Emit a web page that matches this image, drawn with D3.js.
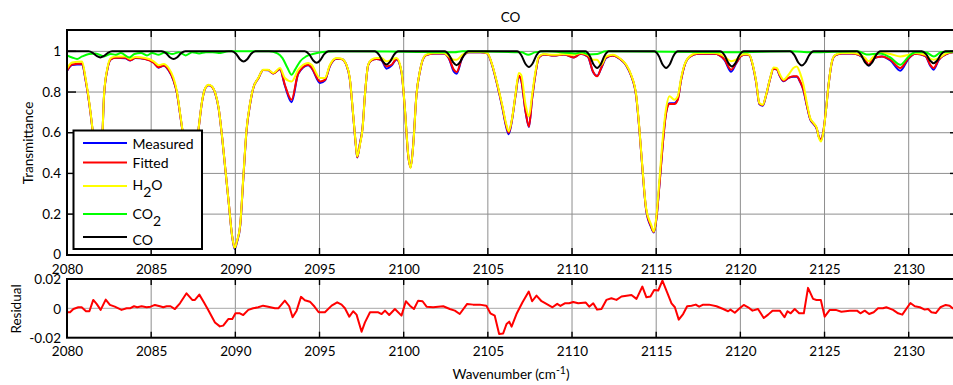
<!DOCTYPE html>
<html><head><meta charset="utf-8">
<script src="https://cdn.jsdelivr.net/npm/d3@7"></script>
<style>
body{margin:0;background:#fff;}
svg{display:block;font-family:Lato,"Open Sans",sans-serif;}
</style></head><body>
<svg id="c" width="953" height="385"></svg>
<script>
// ---------------- data ----------------
const wavenumber = [
 2080.00,2080.30,2080.90,2081.10,2081.40,2081.60,2081.85,2082.10,2082.20,2082.40,
 2082.60,2082.90,2083.46,2083.76,2084.06,2084.65,2085.15,2085.44,2085.74,2086.04,
 2086.33,2086.53,2086.73,2086.87,2087.30,2087.82,2088.02,2088.21,2088.41,2088.61,
 2088.81,2089.01,2089.20,2089.40,2089.60,2089.80,2089.96,2090.09,2090.29,2090.47,
 2090.67,2090.86,2091.06,2091.36,2091.66,2091.95,2092.25,2092.65,2092.94,2093.34,
 2093.74,2094.33,2094.53,2095.03,2095.32,2095.62,2096.01,2096.31,2096.60,2096.80,
 2097.00,2097.16,2097.24,2097.40,2097.56,2097.70,2097.89,2098.09,2098.38,2098.68,
 2098.98,2099.28,2099.58,2099.87,2100.07,2100.27,2100.41,2100.57,2100.76,2100.96,
 2101.30,2101.79,2102.39,2102.68,2102.98,2103.14,2103.48,2103.87,2104.57,2104.96,
 2105.26,2105.55,2105.85,2106.10,2106.24,2106.44,2106.64,2106.84,2106.98,2107.24,
 2107.44,2107.63,2107.83,2108.03,2108.33,2108.92,2109.52,2110.10,2110.50,2110.94,
 2111.24,2111.49,2111.73,2112.03,2112.42,2112.82,2113.22,2113.51,2113.81,2114.00,
 2114.20,2114.40,2114.70,2114.86,2115.00,2115.20,2115.39,2115.59,2115.79,2116.08,
 2116.28,2116.48,2116.68,2116.98,2117.47,2118.46,2119.06,2119.45,2119.75,2120.05,
 2120.34,2120.54,2120.74,2120.94,2121.13,2121.33,2121.53,2121.77,2121.97,2122.16,
 2122.36,2122.56,2122.86,2123.15,2123.35,2123.55,2123.75,2123.95,2124.15,2124.35,
 2124.54,2124.64,2124.80,2124.94,2125.08,2125.24,2125.44,2125.63,2126.03,2126.62,
 2127.02,2127.42,2127.62,2127.91,2128.41,2128.91,2129.50,2130.00,2130.39,2130.99,
 2131.28,2131.48,2131.78,2132.27,2132.62];

const measured = [
 .903,.933,.936,.860,.695,.548,.298,.578,.782,.912,
 .960,.968,.966,.955,.967,.962,.944,.920,.929,.906,
 .856,.795,.684,.603,.300,.622,.752,.818,.833,.826,
 .792,.718,.588,.424,.261,.097,.028,.060,.143,.370,
 .614,.733,.818,.867,.908,.907,.891,.912,.832,.750,
 .890,.932,.918,.844,.856,.928,.964,.962,.932,.864,
 .686,.535,.478,.548,.628,.787,.932,.956,.962,.956,
 .915,.930,.960,.897,.717,.487,.432,.545,.787,.900,
 .980,.990,.990,.966,.900,.890,.968,.995,.995,.990,
 .930,.838,.728,.625,.593,.665,.780,.878,.858,.703,
 .628,.768,.890,.970,.985,.980,.985,.970,.988,.974,
 .900,.880,.916,.968,.980,.964,.930,.880,.780,.616,
 .403,.222,.135,.110,.168,.352,.545,.700,.745,.745,
 .765,.860,.930,.972,.988,.988,.957,.900,.940,.978,
 .984,.980,.930,.846,.740,.733,.784,.866,.915,.912,
 .876,.853,.870,.875,.875,.850,.808,.732,.665,.642,
 .618,.585,.565,.612,.708,.836,.948,.980,.989,.989,
 .983,.956,.930,.965,.975,.955,.905,.965,.988,.977,
 .930,.910,.957,.988,.995];

const fitted = [
 .905,.935,.940,.862,.695,.548,.300,.578,.782,.912,
 .960,.968,.968,.956,.968,.962,.944,.922,.930,.908,
 .858,.796,.684,.603,.300,.622,.752,.818,.834,.826,
 .793,.720,.590,.426,.263,.099,.033,.064,.146,.372,
 .615,.734,.818,.867,.908,.908,.891,.913,.836,.762,
 .893,.934,.920,.852,.860,.930,.965,.962,.932,.866,
 .686,.538,.480,.545,.625,.787,.932,.956,.963,.958,
 .926,.934,.962,.898,.718,.488,.430,.545,.787,.900,
 .980,.990,.990,.968,.910,.898,.970,.995,.995,.990,
 .932,.840,.732,.632,.600,.668,.782,.880,.860,.705,
 .631,.770,.890,.970,.985,.980,.985,.970,.988,.975,
 .902,.877,.918,.970,.980,.965,.932,.882,.782,.618,
 .405,.225,.140,.112,.170,.350,.541,.697,.741,.741,
 .762,.860,.930,.972,.988,.988,.959,.910,.943,.978,
 .984,.980,.930,.848,.742,.735,.785,.866,.915,.912,
 .878,.855,.870,.877,.877,.852,.811,.735,.668,.645,
 .620,.585,.565,.612,.708,.836,.948,.980,.989,.989,
 .983,.959,.934,.967,.975,.959,.918,.967,.988,.978,
 .934,.918,.959,.988,.995];

const h2o = [
 .915,.945,.950,.870,.700,.550,.300,.580,.787,.918,
 .967,.975,.975,.963,.972,.967,.951,.932,.938,.918,
 .869,.803,.689,.607,.300,.623,.754,.820,.836,.828,
 .795,.721,.590,.426,.263,.099,.033,.066,.150,.377,
 .620,.738,.820,.869,.910,.910,.893,.918,.869,.852,
 .910,.943,.934,.869,.869,.934,.967,.964,.934,.869,
 .689,.541,.484,.541,.623,.787,.934,.959,.967,.967,
 .951,.959,.967,.902,.721,.492,.426,.541,.787,.902,
 .983,.992,.992,.975,.959,.959,.983,.997,.997,.992,
 .934,.844,.738,.640,.607,.672,.787,.893,.885,.738,
 .680,.787,.902,.975,.987,.983,.987,.983,.992,.983,
 .959,.959,.934,.975,.983,.967,.934,.885,.787,.623,
 .410,.230,.148,.115,.180,.377,.573,.721,.779,.762,
 .779,.869,.934,.975,.992,.992,.975,.951,.959,.983,
 .987,.983,.934,.852,.746,.738,.787,.869,.921,.918,
 .885,.861,.885,.918,.926,.893,.836,.746,.672,.648,
 .623,.582,.557,.607,.705,.836,.951,.983,.992,.992,
 .987,.967,.951,.975,.992,.987,.975,.983,.992,.983,
 .964,.959,.967,.992,.997];

// CO2 transmittance: [wavenumber, value]
const co2 = [
 [2080.0,.980],[2080.3,.970],[2080.6,.963],[2080.9,.975],[2081.3,.987],[2081.7,.990],
 [2082.2,.975],[2082.6,.987],[2082.9,.983],[2083.2,.992],[2083.7,.970],[2084.0,.987],
 [2084.4,.992],[2084.75,.980],[2085.05,.992],[2085.45,.983],[2085.85,.996],[2086.25,.987],
 [2086.65,.996],[2087.05,.980],[2087.45,.996],[2087.85,.990],[2088.25,.996],[2088.65,.996],
 [2089.0,.992],[2089.6,1.0],[2090.4,1.0],[2091.0,1.0],[2092.0,1.0],[2092.5,.990],
 [2092.8,.967],[2093.1,.918],[2093.34,.885],[2093.55,.910],[2093.85,.951],[2094.2,.975],
 [2094.6,.987],[2095.2,.997],[2096.0,1.0],[2100.0,.998],[2103.0,.995],[2103.5,1.0],
 [2107.0,.995],[2107.4,.983],[2107.8,.995],[2108.5,1.0],[2110.2,.990],[2110.6,.995],
 [2111.0,.985],[2111.5,.987],[2112.0,1.0],[2119.5,.995],[2123.0,1.0],[2124.2,.995],
 [2127.0,1.0],[2127.5,.985],[2128.3,.990],[2128.9,.970],[2129.5,.934],[2130.0,.975],
 [2130.4,.995],[2131.0,.995],[2131.5,.975],[2131.9,.995],[2133.0,1.0]];

// CO transmittance: [wavenumber, value]
const co = [
 [2080.0,1],
 [2081.28,1],[2081.53,.992],[2081.78,.976],[2081.98,.970],[2082.18,.976],[2082.43,.992],[2082.68,1],
 [2085.63,1],[2085.88,.991],[2086.13,.970],[2086.33,.963],[2086.53,.970],[2086.78,.991],[2087.03,1],
 [2089.79,1],[2090.04,.988],[2090.29,.960],[2090.49,.950],[2090.69,.960],[2090.94,.988],[2091.19,1],
 [2094.13,1],[2094.38,.986],[2094.63,.955],[2094.83,.944],[2095.03,.955],[2095.28,.986],[2095.53,1],
 [2098.28,1],[2098.53,.984],[2098.78,.948],[2098.98,.935],[2099.18,.948],[2099.43,.984],[2099.68,1],
 [2102.44,1],[2102.69,.983],[2102.94,.946],[2103.14,.932],[2103.34,.946],[2103.59,.983],[2103.84,1],
 [2106.74,1],[2106.99,.981],[2107.24,.938],[2107.44,.923],[2107.64,.938],[2107.89,.981],[2108.14,1],
 [2110.79,1],[2111.04,.980],[2111.29,.934],[2111.49,.918],[2111.69,.934],[2111.94,.980],[2112.19,1],
 [2114.89,1],[2115.14,.980],[2115.39,.934],[2115.59,.918],[2115.79,.934],[2116.04,.980],[2116.29,1],
 [2118.80,1],[2119.05,.982],[2119.30,.941],[2119.50,.926],[2119.70,.941],[2119.95,.982],[2120.20,1],
 [2122.95,1],[2123.20,.983],[2123.45,.944],[2123.65,.930],[2123.85,.944],[2124.10,.983],[2124.35,1],
 [2126.92,1],[2127.17,.983],[2127.42,.944],[2127.62,.930],[2127.82,.944],[2128.07,.983],[2128.32,1],
 [2130.78,1],[2131.03,.986],[2131.28,.954],[2131.48,.942],[2131.68,.954],[2131.93,.986],[2132.18,1],
 [2133.0,1]];

// residual: [wavenumber, value]
const residual = [
 [2080.0,-.0027],[2080.18,-.0027],[2080.38,-.0005],[2080.67,.0007],[2080.87,.0007],[2081.13,-.002],
 [2081.33,-.002],[2081.56,.0057],[2081.76,.003],[2082.0,-.0011],[2082.3,.0059],[2082.55,.0023],
 [2082.84,.0011],[2083.24,-.0011],[2083.54,0],[2083.74,0],[2083.98,.0014],[2084.17,.0007],
 [2084.43,.0014],[2084.73,.0007],[2084.97,.0011],[2085.22,.0023],[2085.52,.0014],[2085.72,.0007],
 [2085.92,.0014],[2086.15,.0014],[2086.41,-.0005],[2086.71,.0034],[2087.1,.0102],[2087.44,.0057],
 [2087.6,.0057],[2087.86,.0093],[2088.13,.0041],[2088.39,-.0011],[2088.79,-.0096],[2089.08,-.0123],
 [2089.28,-.0118],[2089.58,-.0073],[2089.82,-.0073],[2090.01,-.0034],[2090.27,-.0034],[2090.47,-.0046],
 [2090.77,-.0011],[2091.06,0],[2091.36,.0007],[2091.65,.0018],[2091.95,.0011],[2092.35,0],
 [2092.55,0],[2092.94,.0052],[2093.2,.0014],[2093.4,-.0061],[2093.64,-.0016],[2093.9,.0078],
 [2094.13,.0055],[2094.43,.0045],[2094.7,.0012],[2094.95,-.0027],[2095.32,-.0027],[2095.72,.0018],
 [2096.05,.0041],[2096.31,.0025],[2096.51,0],[2096.77,-.0057],[2097.0,-.002],[2097.2,-.0043],
 [2097.5,-.0159],[2097.7,-.0096],[2098.0,-.0027],[2098.49,-.0027],[2098.69,-.0039],[2098.89,-.0016],
 [2099.14,-.0046],[2099.48,-.0005],[2099.87,-.005],[2100.13,.0048],[2100.37,.0018],[2100.61,-.0005],
 [2100.86,.0052],[2101.12,.0048],[2101.36,.0011],[2101.75,.0007],[2102.35,.0014],[2102.74,-.0005],
 [2103.04,-.0016],[2103.33,-.0039],[2103.77,.003],[2104.12,.0025],[2104.52,.0025],[2104.91,.0018],
 [2105.15,-.0034],[2105.41,-.005],[2105.67,-.0175],[2105.91,-.0171],[2106.11,-.0107],[2106.27,-.0091],
 [2106.41,-.0125],[2106.7,-.0039],[2107.06,.0041],[2107.43,.0114],[2107.63,.0048],[2107.89,.0086],
 [2108.19,.0048],[2108.48,.003],[2108.84,.0007],[2109.12,.003],[2109.31,.0016],[2109.57,.0034],
 [2109.83,.0034],[2110.07,.0043],[2110.37,.0034],[2110.82,.0039],[2111.02,.0011],[2111.26,.0034],
 [2111.49,-.0009],[2111.75,-.0005],[2112.04,.0057],[2112.34,.0068],[2112.64,.0057],[2112.94,.008],
 [2113.24,.0086],[2113.53,.0091],[2113.83,.0064],[2114.18,.0148],[2114.42,.0075],[2114.66,.008],
 [2114.88,.0125],[2115.12,.0121],[2115.37,.0189],[2115.65,.0109],[2115.91,.0034],[2116.11,.0007],
 [2116.34,-.0077],[2116.6,-.0039],[2116.84,.0014],[2117.1,.0018],[2117.35,.0025],[2117.55,.0011],
 [2117.79,.0025],[2118.14,.0025],[2118.58,.0014],[2118.98,-.0005],[2119.27,-.002],[2119.41,-.0009],
 [2119.67,-.003],[2119.96,0],[2120.2,.0023],[2120.46,.0007],[2120.72,-.0016],[2121.05,-.0005],
 [2121.39,-.0066],[2121.65,-.0043],[2121.91,-.0016],[2122.34,-.0016],[2122.62,-.0061],[2122.8,-.002],
 [2122.99,-.0034],[2123.23,-.0005],[2123.49,-.0034],[2123.77,-.0034],[2124.02,.0139],[2124.32,.0064],
 [2124.52,.0057],[2124.78,.0057],[2125.01,-.0057],[2125.31,-.0011],[2125.67,-.0011],[2126.0,-.0023],
 [2126.5,-.0016],[2126.93,-.0016],[2127.13,-.0034],[2127.39,-.0016],[2127.65,-.0039],[2127.92,-.0027],
 [2128.18,0],[2128.47,0],[2128.67,.0007],[2129.07,-.0011],[2129.37,-.0034],[2129.62,-.0043],
 [2130.1,.0036],[2130.36,.0014],[2130.66,.0007],[2130.95,-.0009],[2131.15,-.0005],[2131.35,-.0027],
 [2131.61,-.0032],[2131.88,.0007],[2132.2,.0023],[2132.43,.0018],[2132.61,0],[2133.0,-.0005]];

const xTicks = [2080,2085,2090,2095,2100,2105,2110,2115,2120,2125,2130];
const yTicks = [0,0.2,0.4,0.6,0.8,1];
const resTicks = [-0.02,0,0.02];
const legendLabels = ["Measured","Fitted","H_2O","CO_2","CO"];
const seriesColors = ["#0000ff","#ff0000","#ffff00","#00ff00","#000000"];

// ---------------- layout ----------------
const L = 67, XR = 959, T1 = 30, B1 = 255, T2 = 279, B2 = 337.7;
const x = d3.scaleLinear().domain([2080, 2130]).range([67, 908.7]);
const y = d3.scaleLinear().domain([0, 1]).range([254.8, 51.35]);
const yr = d3.scaleLinear().domain([-0.02, 0.02]).range([337.7, 278.9]);
const FONT = "Lato, 'Open Sans', sans-serif";
const FS = 13.5;

const svg = d3.select("#c");
const defs = svg.append("defs");
defs.append("clipPath").attr("id","clipTop").append("rect")
  .attr("x",L).attr("y",T1).attr("width",XR-L).attr("height",B1-T1);
defs.append("clipPath").attr("id","clipRes").append("rect")
  .attr("x",L).attr("y",T2).attr("width",XR-L).attr("height",B2-T2);

const gridColor = "#8e8e8e";
// ---- top panel grid
const gTop = svg.append("g");
gTop.selectAll(".vg").data(xTicks).join("line")
  .attr("x1",d=>x(d)).attr("x2",d=>x(d)).attr("y1",T1).attr("y2",B1)
  .attr("stroke",gridColor).attr("stroke-width",1);
gTop.selectAll(".hg").data(yTicks.filter(d=>d>0)).join("line")
  .attr("x1",L).attr("x2",XR).attr("y1",d=>y(d)).attr("y2",d=>y(d))
  .attr("stroke",gridColor).attr("stroke-width",1);

// ---- top panel series
const specData = [
  wavenumber.map((w,i)=>[w, measured[i]]),
  wavenumber.map((w,i)=>[w, fitted[i]]),
  wavenumber.map((w,i)=>[w, h2o[i]]),
  co2,
  co
];
const lineTop = d3.line().x(d=>x(d[0])).y(d=>y(d[1])).curve(d3.curveMonotoneX);
const dataTop = svg.append("g").attr("clip-path","url(#clipTop)");
specData.forEach((s,i)=>{
  dataTop.append("path").datum(s).attr("d",lineTop)
    .attr("fill","none").attr("stroke",seriesColors[i]).attr("stroke-width",2)
    .attr("stroke-linejoin","round");
});

// frame & ticks top
svg.append("rect").attr("x",L).attr("y",T1).attr("width",XR-L).attr("height",B1-T1)
  .attr("fill","none").attr("stroke","#000").attr("stroke-width",2);
const tk = svg.append("g").attr("stroke","#000").attr("stroke-width",1.4);
xTicks.forEach(d=>{
  tk.append("line").attr("x1",x(d)).attr("x2",x(d)).attr("y1",B1).attr("y2",B1-7);
  tk.append("line").attr("x1",x(d)).attr("x2",x(d)).attr("y1",T1).attr("y2",T1+7);
});
yTicks.forEach(d=>{
  tk.append("line").attr("x1",L).attr("x2",L+9).attr("y1",y(d)).attr("y2",y(d));
  tk.append("line").attr("x1",XR).attr("x2",XR-9).attr("y1",y(d)).attr("y2",y(d));
});

// axes labels top
const axXTop = svg.append("g").attr("transform",`translate(0,${B1})`)
  .call(d3.axisBottom(x).tickValues(xTicks).tickSize(0).tickPadding(9).tickFormat(d3.format("d")));
const axYTop = svg.append("g").attr("transform",`translate(${L},0)`)
  .call(d3.axisLeft(y).tickValues(yTicks).tickSize(0).tickPadding(6).tickFormat(d3.format("~g")));
[axXTop, axYTop].forEach(g=>{ g.select(".domain").remove(); g.attr("font-size",FS).attr("font-family",FONT); });
axYTop.selectAll("text").attr("dy","0.3em");

// ---- residual panel
const gRes = svg.append("g");
gRes.selectAll("line.v").data(xTicks).join("line")
  .attr("x1",d=>x(d)).attr("x2",d=>x(d)).attr("y1",T2).attr("y2",B2)
  .attr("stroke",gridColor).attr("stroke-width",1);
gRes.append("line").attr("x1",L).attr("x2",XR).attr("y1",yr(0)).attr("y2",yr(0))
  .attr("stroke","#a8a8a8").attr("stroke-width",1);
const lineRes = d3.line().x(d=>x(d[0])).y(d=>yr(d[1]));
svg.append("g").attr("clip-path","url(#clipRes)").append("path").datum(residual)
  .attr("d",lineRes).attr("fill","none").attr("stroke","#ff0000").attr("stroke-width",2)
  .attr("stroke-linejoin","round");
svg.append("rect").attr("x",L).attr("y",T2).attr("width",XR-L).attr("height",B2-T2)
  .attr("fill","none").attr("stroke","#000").attr("stroke-width",2);
const tk2 = svg.append("g").attr("stroke","#000").attr("stroke-width",1.4);
xTicks.forEach(d=>{
  tk2.append("line").attr("x1",x(d)).attr("x2",x(d)).attr("y1",B2).attr("y2",B2-6);
  tk2.append("line").attr("x1",x(d)).attr("x2",x(d)).attr("y1",T2).attr("y2",T2+6);
});
const axXRes = svg.append("g").attr("transform",`translate(0,${B2})`)
  .call(d3.axisBottom(x).tickValues(xTicks).tickSize(0).tickPadding(8.5).tickFormat(d3.format("d")));
const axYRes = svg.append("g").attr("transform",`translate(${L},0)`)
  .call(d3.axisLeft(yr).tickValues(resTicks).tickSize(0).tickPadding(6)
    .tickFormat(d=> d===0 ? "0" : (d<0?"-":"") + Math.abs(d).toFixed(2)));
[axXRes, axYRes].forEach(g=>{ g.select(".domain").remove(); g.attr("font-size",FS).attr("font-family",FONT); });
axYRes.selectAll("text").attr("dy","0.36em");

// ---- titles
svg.append("text").attr("x",510.5).attr("y",21.5).attr("text-anchor","middle")
  .attr("font-size",FS).attr("font-family",FONT).text("CO");
const xl = svg.append("text").attr("x",511).attr("y",378.5).attr("text-anchor","middle")
  .attr("font-size",FS).attr("font-family",FONT);
xl.append("tspan").text("Wavenumber (cm");
xl.append("tspan").attr("dy",-5).attr("font-size",10.5).text("-1");
xl.append("tspan").attr("dy",5).text(")");
svg.append("text").attr("transform","translate(32.5,143) rotate(-90)").attr("text-anchor","middle")
  .attr("font-size",FS).attr("font-family",FONT).text("Transmittance");
svg.append("text").attr("transform","translate(20.5,309) rotate(-90)").attr("text-anchor","middle")
  .attr("font-size",FS).attr("font-family",FONT).text("Residual");

// ---- legend
const legY = [143, 162.5, 186, 214, 237];
const legTextY = [148.8, 168.3, 190.3, 218.7, 244.5];
const lg = svg.append("g");
lg.append("rect").attr("x",73.5).attr("y",130.5).attr("width",128.5).attr("height",118.5)
  .attr("fill","#fff").attr("stroke","#000").attr("stroke-width",2);
legendLabels.forEach((lab,i)=>{
  lg.append("line").attr("x1",83).attr("x2",127).attr("y1",legY[i]).attr("y2",legY[i])
    .attr("stroke",seriesColors[i]).attr("stroke-width",2);
  const t = lg.append("text").attr("x",132.5).attr("y",legTextY[i])
    .attr("font-size",FS+0.5).attr("font-family",FONT);
  const parts = lab.split("_");
  if (parts.length === 1) { t.text(lab); }
  else {
    t.append("tspan").text(parts[0]);
    t.append("tspan").attr("dy",7).text(parts[1].charAt(0));
    if (parts[1].length > 1) t.append("tspan").attr("dy",-7).text(parts[1].slice(1));
  }
});
</script>
</body></html>
